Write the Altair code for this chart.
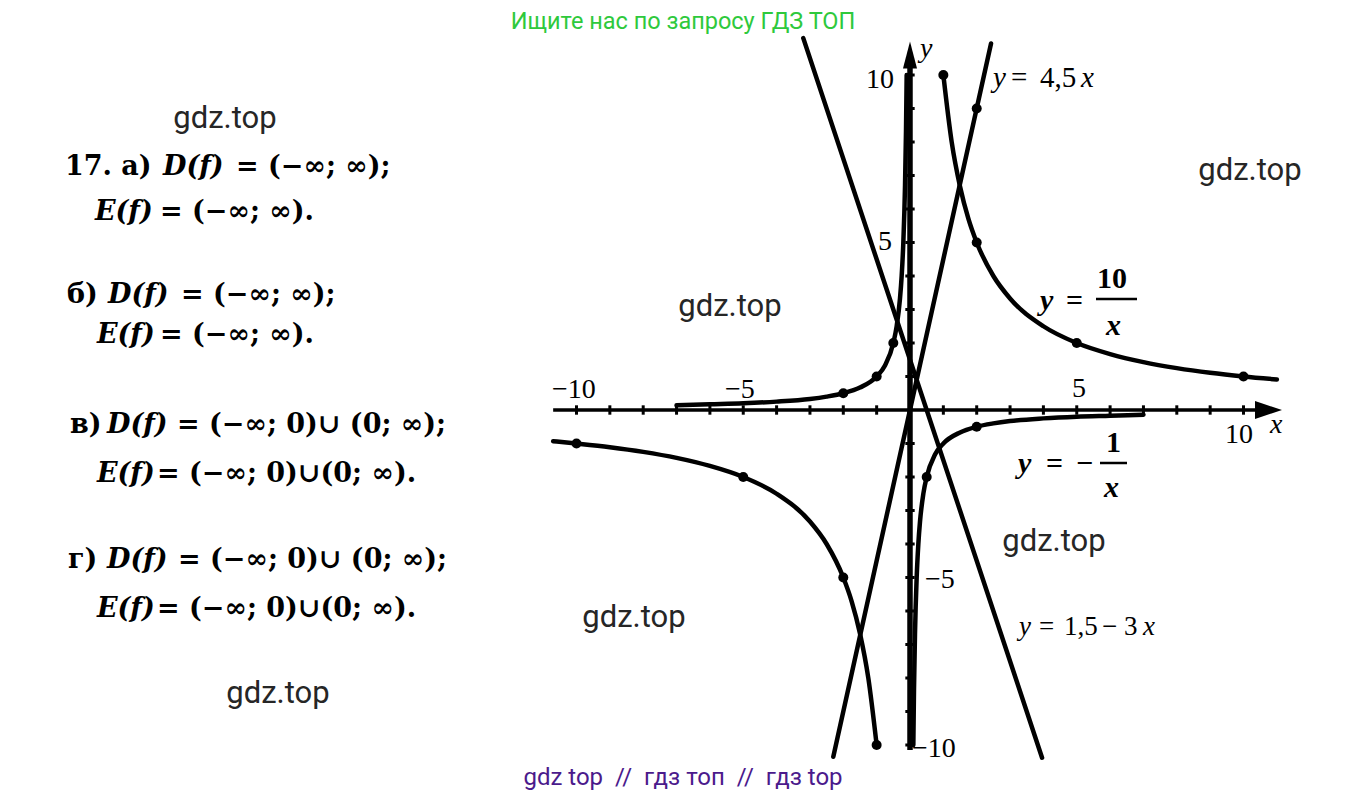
import altair as alt
import pandas as pd

# ---------------- data ----------------
# y = 10/x
h10_right_x = [1, 1.25, 1.5, 1.75, 2, 2.5, 3, 4, 5, 6, 7, 8, 9, 10, 11]
h10_right_y = [10, 8, 6.67, 5.71, 5, 4, 3.33, 2.5, 2, 1.67, 1.43, 1.25, 1.11, 1, 0.91]
h10_left_x = [-10.7, -10, -9, -8, -7, -6, -5, -4, -3, -2.5, -2, -1.75, -1.5, -1.25, -1]
h10_left_y = [-0.93, -1, -1.11, -1.25, -1.43, -1.67, -2, -2.5, -3.33, -4, -5, -5.71, -6.67, -8, -10]
h10_dots_x = [1, 2, 5, 10, -10, -5, -2, -1]
h10_dots_y = [10, 5, 2, 1, -1, -2, -5, -10]

# y = -1/x
hm1_left_x = [-7, -6, -5, -4, -3, -2.5, -2, -1.5, -1, -0.75, -0.5, -0.4, -0.3, -0.25, -0.2, -0.15, -0.12, -0.1]
hm1_left_y = [0.14, 0.17, 0.2, 0.25, 0.33, 0.4, 0.5, 0.67, 1, 1.33, 2, 2.5, 3.33, 4, 5, 6.67, 8.33, 10]
hm1_right_x = [0.1, 0.12, 0.15, 0.2, 0.25, 0.3, 0.4, 0.5, 0.75, 1, 1.5, 2, 2.5, 3, 4, 5, 6, 7]
hm1_right_y = [-10, -8.33, -6.67, -5, -4, -3.33, -2.5, -2, -1.33, -1, -0.67, -0.5, -0.4, -0.33, -0.25, -0.2, -0.17, -0.14]
hm1_dots_x = [-2, -1, -0.5, 0.5, 2]
hm1_dots_y = [0.5, 1, 2, -2, -0.5]

# y = 4,5x
l45_x = [-2.3, 2.43]
l45_y = [-10.35, 10.94]
l45_dots_x = [2]
l45_dots_y = [9]

# y = 1,5 - 3x
l153_x = [-3.2, 3.96]
l153_y = [11.1, -10.38]

# axis ticks
x_ticks = [-10, -9, -8, -7, -6, -5, -4, -3, -2, -1, 1, 2, 3, 4, 5, 6, 7, 8, 9, 10]
y_ticks = [-10, -9, -8, -7, -6, -5, -4, -3, -2, -1, 1, 2, 3, 4, 5, 6, 7, 8, 9, 10]
x_axis_range = [-10.7, 10.8]
y_axis_range = [-10.15, 10.6]

# texts
left_prefix = ["17. а)", "б)", "в)", "г)"]
left_fn = ["D(f)", "E(f)", "D(f)", "E(f)", "D(f)", "E(f)", "D(f)", "E(f)"]
left_rest = ["= (−∞; ∞);", "= (−∞; ∞).", "= (−∞; ∞);", "= (−∞; ∞).",
             "= (−∞; 0)∪ (0; ∞);", "= (−∞; 0)∪(0; ∞).",
             "= (−∞; 0)∪ (0; ∞);", "= (−∞; 0)∪(0; ∞)."]
axis_num_text = ["10", "5", "−5", "−10", "−10", "−5", "5", "10"]
axis_letters = ["y", "x"]
eq45_italic = ["y", "x"]
eq45_roman = ["=", "4,5"]
eq153_italic = ["y", "x"]
eq153_roman = ["=", "1,5", "−", "3"]
frac_italic = ["y", "x", "y", "x"]
frac_roman = ["=", "10", "=", "−", "1"]
watermark = "gdz.top"
header_text = "Ищите нас по запросу ГДЗ ТОП"
footer_text = "gdz top\u00a0\u00a0//\u00a0\u00a0гдз топ\u00a0\u00a0//\u00a0\u00a0гдз top"

# ---------------- layout ----------------
W, H = 1353, 784
OX, OY = 902, 402            # origin inside plot area (px)
UX, UY = 33.35, 33.5          # px per unit
xs = alt.Scale(domain=[-OX / UX, (W - OX) / UX], nice=False, zero=False)
ys = alt.Scale(domain=[(OY - H) / UY, OY / UY], nice=False, zero=False)

SERIF = "Liberation Serif"
WSERIF = "DejaVu Serif"
SANS = "Roboto"


def mx(f="x"):
    return alt.X(f"{f}:Q", scale=xs, axis=None)


def my(f="y"):
    return alt.Y(f"{f}:Q", scale=ys, axis=None)


def curve_df(pairs):
    rows = []
    for name, xv, yv in pairs:
        for a, b in zip(xv, yv):
            rows.append({"s": name, "x": a, "y": b})
    return pd.DataFrame(rows)


curves = curve_df([("h10r", h10_right_x, h10_right_y), ("h10l", h10_left_x, h10_left_y),
                   ("m1l", hm1_left_x, hm1_left_y), ("m1r", hm1_right_x, hm1_right_y)])
lines = curve_df([("l45", l45_x, l45_y), ("l153", l153_x, l153_y)])
dots = pd.DataFrame({"x": h10_dots_x + hm1_dots_x + l45_dots_x,
                     "y": h10_dots_y + hm1_dots_y + l45_dots_y})

curve_layer = alt.Chart(curves).mark_line(color="black", strokeWidth=4.5, interpolate="monotone",
                                          strokeCap="round").encode(
    x=mx(), y=my(), detail="s:N", order="x:Q")
line_layer = alt.Chart(lines).mark_line(color="black", strokeWidth=4.5, strokeCap="round").encode(
    x=mx(), y=my(), detail="s:N")
dot_layer = alt.Chart(dots).mark_circle(color="black", size=100, opacity=1).encode(x=mx(), y=my())

# axes
xaxis = alt.Chart(pd.DataFrame({"x": [x_axis_range[0]], "x2": [x_axis_range[1]], "y": [0]})).mark_rule(
    color="black", strokeWidth=3.5).encode(x=mx(), x2="x2:Q", y=my())
yaxis = alt.Chart(pd.DataFrame({"y": [y_axis_range[0]], "y2": [y_axis_range[1]], "x": [0]})).mark_rule(
    color="black", strokeWidth=5.5).encode(y=my(), y2="y2:Q", x=mx())
xt = pd.DataFrame({"x": x_ticks, "y": [-0.14] * len(x_ticks), "y2": [0.14] * len(x_ticks)})
yt = pd.DataFrame({"y": y_ticks, "x": [-0.14] * len(y_ticks), "x2": [0.14] * len(y_ticks)})
xtick_layer = alt.Chart(xt).mark_rule(color="black", strokeWidth=3).encode(x=mx(), y=my(), y2="y2:Q")
ytick_layer = alt.Chart(yt).mark_rule(color="black", strokeWidth=3).encode(y=my(), x=mx(), x2="x2:Q")
arrow_x = alt.Chart(pd.DataFrame({"x": [10.75], "y": [0]})).mark_point(
    shape="M-1,-0.66L1,0L-1,0.66Z", filled=True, color="black", size=729, opacity=1).encode(x=mx(), y=my())
arrow_y = alt.Chart(pd.DataFrame({"x": [0], "y": [10.6]})).mark_point(
    shape="M-0.52,1L0,-1L0.52,1Z", filled=True, color="black", size=729, opacity=1).encode(x=mx(), y=my())


# ---------------- text helpers (page px positions) ----------------
def text_layer(texts, pos, font, size, weight="normal", style="normal", color="black",
               align="left", baseline="alphabetic"):
    df = pd.DataFrame({"t": texts, "px": [p[0] - 8 for p in pos], "py": [p[1] - 8 for p in pos]})
    return alt.Chart(df).mark_text(font=font, fontSize=size, fontWeight=weight, fontStyle=style,
                                   color=color, align=align, baseline=baseline).encode(
        x=alt.X("px:Q", scale=None, axis=None), y=alt.Y("py:Q", scale=None, axis=None), text="t:N")


LS = 27
prefix_pos = [(65, 175), (67, 303), (70, 433), (68, 568)]
fn_pos = [(163, 175), (95, 220), (108, 303), (97, 343), (107, 433), (97, 482), (107, 568), (97, 617)]
rest_pos = [(236, 175), (160, 220), (181, 303), (160, 343), (177, 433), (157, 482), (178, 568), (157, 617)]
t_prefix = text_layer(left_prefix, prefix_pos, WSERIF, LS, weight="bold")
t_fn = text_layer(left_fn, fn_pos, WSERIF, LS, weight="bold", style="italic")
t_rest = text_layer(left_rest, rest_pos, WSERIF, LS, weight="bold")

axis_num_pos = [(866, 88), (878, 250), (925, 588), (912, 757), (552, 398), (725, 398), (1072, 397), (1225, 443)]
t_axisnum = text_layer(axis_num_text, axis_num_pos, SERIF, 28)
t_axislet = text_layer(axis_letters, [(920, 57), (1270, 433)], SERIF, 28, style="italic")

# equation labels
t_eq45_it = text_layer(eq45_italic, [(993, 87), (1081, 87)], SERIF, 29, style="italic")
t_eq45_rm = text_layer(eq45_roman, [(1011, 87), (1040, 87)], SERIF, 29)
t_eq153_it = text_layer(eq153_italic, [(1019, 635), (1143, 635)], SERIF, 27, style="italic")
t_eq153_rm = text_layer(eq153_roman, [(1039, 635), (1064, 635), (1102, 635), (1124, 635)], SERIF, 27)
t_frac_it = text_layer(frac_italic, [(1040, 310), (1106, 335), (1018, 473), (1104, 497)],
                       SERIF, 30, weight="bold", style="italic")
t_frac_rm = text_layer(frac_roman, [(1066, 310), (1097, 288), (1046, 473), (1076, 473), (1106, 452)],
                       SERIF, 30, weight="bold")
bars = pd.DataFrame({"x1": [1096 - 8, 1100 - 8], "x2": [1137 - 8, 1127 - 8], "y": [299 - 8, 463 - 8]})
frac_bars = alt.Chart(bars).mark_rule(color="black", strokeWidth=2.5).encode(
    x=alt.X("x1:Q", scale=None, axis=None), x2="x2:Q", y=alt.Y("y:Q", scale=None, axis=None))

wm_pos = [(225, 119), (1250, 171), (730, 307), (1054, 542), (634, 618), (278, 694)]
t_wm = text_layer([watermark] * len(wm_pos), wm_pos, SANS, 31, color="#262626", align="center",
                  baseline="middle")
t_head = text_layer([header_text], [(683, 10)], SANS, 23.5, color="#2ec93c", align="center", baseline="top")
t_foot = text_layer([footer_text], [(683, 778)], SANS, 24, color="#4b1a8c", align="center", baseline="middle")

chart = alt.layer(
    xaxis, yaxis, xtick_layer, ytick_layer, arrow_x, arrow_y,
    curve_layer, line_layer, dot_layer,
    t_prefix, t_fn, t_rest, t_axisnum, t_axislet, t_eq45_it, t_eq45_rm, t_eq153_it, t_eq153_rm,
    t_frac_it, t_frac_rm, frac_bars,
    t_wm, t_head, t_foot,
).resolve_scale(x="independent", y="independent").properties(
    width=W, height=H, autosize=alt.AutoSizeParams(type="none"), padding=0, background="white"
).configure_view(stroke=None)

chart.save("out.html", embed_options={"renderer": "svg", "actions": False})
